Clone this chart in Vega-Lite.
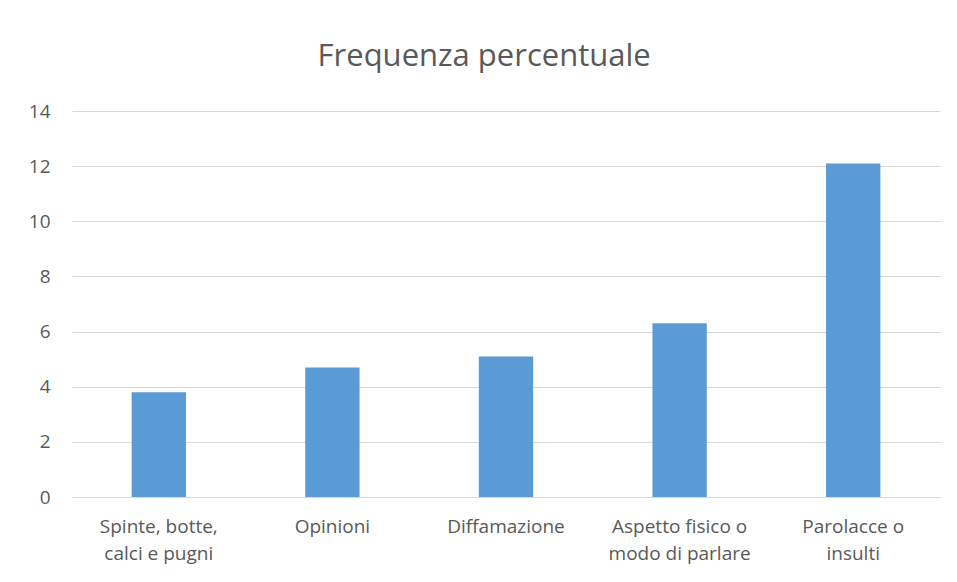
{
  "$schema": "https://vega.github.io/schema/vega-lite/v6.json",
  "width": 868,
  "height": 386,
  "autosize": {"type": "none"},
  "padding": {"left": 72, "top": 111, "right": 17, "bottom": 85},
  "background": "white",
  "title": {
    "text": "Frequenza percentuale",
    "font": "Open Sans",
    "fontSize": 31,
    "fontWeight": 400,
    "color": "#595959",
    "anchor": "middle",
    "frame": "bounds",
    "baseline": "alphabetic",
    "offset": 5
  },
  "data": {
    "values": [
      {"categoria": "Spinte, botte, calci e pugni", "valore": 3.8},
      {"categoria": "Opinioni", "valore": 4.7},
      {"categoria": "Diffamazione", "valore": 5.1},
      {"categoria": "Aspetto fisico o modo di parlare", "valore": 6.3},
      {"categoria": "Parolacce o insulti", "valore": 12.1}
    ]
  },
  "mark": {"type": "bar", "color": "#5B9BD5"},
  "encoding": {
    "x": {
      "field": "categoria",
      "type": "nominal",
      "sort": null,
      "scale": {"paddingInner": 0.687, "paddingOuter": 0.3435},
      "axis": {
        "title": null,
        "labelAngle": 0,
        "labelFont": "Open Sans",
        "labelFontSize": 19,
        "labelColor": "#595959",
        "labelPadding": 20,
        "labelLineHeight": 27,
        "labelExpr": "datum.label == 'Spinte, botte, calci e pugni' ? ['Spinte, botte,', 'calci e pugni'] : datum.label == 'Aspetto fisico o modo di parlare' ? ['Aspetto fisico o', 'modo di parlare'] : datum.label == 'Parolacce o insulti' ? ['Parolacce o', 'insulti'] : datum.label",
        "ticks": false,
        "domain": true,
        "domainColor": "#D9D9D9",
        "domainWidth": 1,
        "grid": false
      }
    },
    "y": {
      "field": "valore",
      "type": "quantitative",
      "scale": {"domain": [0, 14], "nice": false},
      "axis": {
        "title": null,
        "values": [0, 2, 4, 6, 8, 10, 12, 14],
        "labelFont": "Open Sans",
        "labelFontSize": 19,
        "labelColor": "#595959",
        "labelPadding": 22,
        "ticks": false,
        "domain": false,
        "grid": true,
        "gridColor": "#D9D9D9",
        "gridWidth": 1
      }
    }
  },
  "config": {
    "view": {"stroke": null}
  }
}
